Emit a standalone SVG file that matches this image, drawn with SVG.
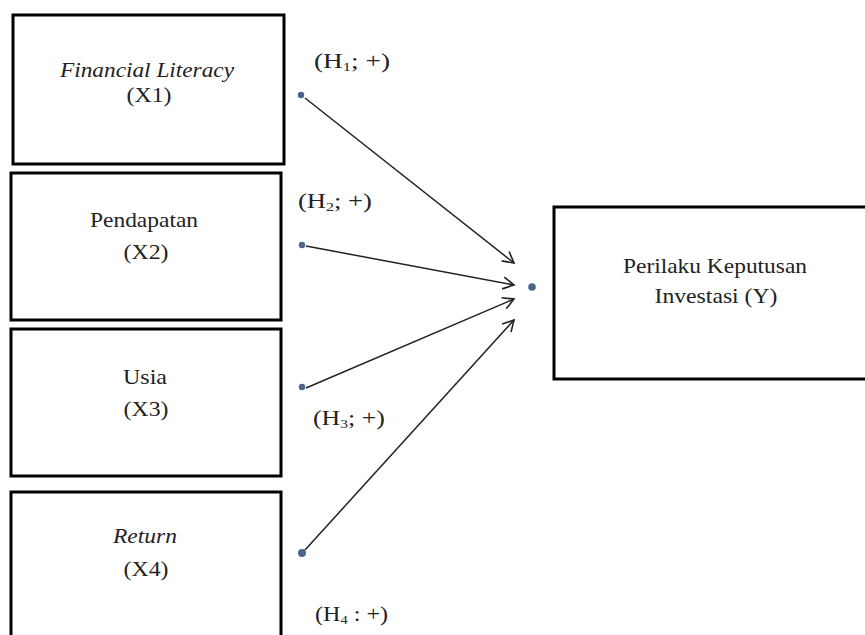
<svg xmlns="http://www.w3.org/2000/svg" width="865" height="635" viewBox="0 0 865 635">
<style>
.box{fill:#fff;stroke:#000;stroke-width:3}
text{font-family:'Liberation Serif','Times New Roman',serif;fill:#222}
.t{font-size:22px;text-anchor:middle}
.i{font-style:italic}
.h{font-size:20px}
.sub{font-size:12px}
.dot{fill:#4a6690}
.ln{stroke:#222;stroke-width:1.5;fill:none;marker-end:url(#arr)}
</style>
<defs>
<marker id="arr" markerWidth="14" markerHeight="14" refX="12" refY="7" orient="auto" markerUnits="userSpaceOnUse">
<path d="M1,1 L12,7 L1,13" fill="none" stroke="#222" stroke-width="1.6"/>
</marker>
</defs>
<rect width="865" height="635" fill="#fff"/>
<g id="x1">
<rect class="box" x="13" y="15" width="271" height="149"/>
<text class="t i" x="147" y="77" textLength="174" lengthAdjust="spacingAndGlyphs">Financial Literacy</text>
<text class="t" x="149" y="102" textLength="45" lengthAdjust="spacingAndGlyphs">(X1)</text>
</g>
<g id="x2">
<rect class="box" x="11" y="173" width="270" height="147"/>
<text class="t" x="144" y="227" textLength="108" lengthAdjust="spacingAndGlyphs">Pendapatan</text>
<text class="t" x="146" y="259" textLength="45" lengthAdjust="spacingAndGlyphs">(X2)</text>
</g>
<g id="x3">
<rect class="box" x="11" y="329" width="270" height="147"/>
<text class="t" x="145" y="384" textLength="44" lengthAdjust="spacingAndGlyphs">Usia</text>
<text class="t" x="146" y="416" textLength="45" lengthAdjust="spacingAndGlyphs">(X3)</text>
</g>
<g id="x4">
<rect class="box" x="11" y="492" width="270" height="160"/>
<text class="t i" x="145" y="543" textLength="64" lengthAdjust="spacingAndGlyphs">Return</text>
<text class="t" x="146" y="576" textLength="45" lengthAdjust="spacingAndGlyphs">(X4)</text>
</g>
<g id="y">
<rect class="box" x="554" y="207" width="320" height="172"/>
<text class="t" x="715" y="273" textLength="184" lengthAdjust="spacingAndGlyphs">Perilaku Keputusan</text>
<text class="t" x="716" y="303" textLength="123" lengthAdjust="spacingAndGlyphs">Investasi (Y)</text>
</g>
<g id="connectors">
<circle class="dot" cx="301" cy="95" r="3.2"/>
<circle class="dot" cx="302" cy="245" r="3.2"/>
<circle class="dot" cx="302" cy="387" r="3.2"/>
<circle class="dot" cx="302" cy="553" r="4"/>
<circle class="dot" cx="532" cy="287" r="3.8"/>
<line class="ln" x1="305" y1="98" x2="514" y2="263"/>
<line class="ln" x1="306" y1="246" x2="514" y2="285"/>
<line class="ln" x1="306" y1="388" x2="514" y2="299"/>
<line class="ln" x1="305" y1="550" x2="514" y2="320"/>
<text class="h" x="314" y="68" textLength="76" lengthAdjust="spacingAndGlyphs">(H<tspan class="sub" dy="3">1</tspan><tspan dy="-3">; +)</tspan></text>
<text class="h" x="298" y="208" textLength="74" lengthAdjust="spacingAndGlyphs">(H<tspan class="sub" dy="3">2</tspan><tspan dy="-3">; +)</tspan></text>
<text class="h" x="313" y="425" textLength="72" lengthAdjust="spacingAndGlyphs">(H<tspan class="sub" dy="3">3</tspan><tspan dy="-3">; +)</tspan></text>
<text class="h" x="315" y="621" textLength="73" lengthAdjust="spacingAndGlyphs">(H<tspan class="sub" dy="3">4</tspan><tspan dy="-3"> : +)</tspan></text>
</g>
</svg>
